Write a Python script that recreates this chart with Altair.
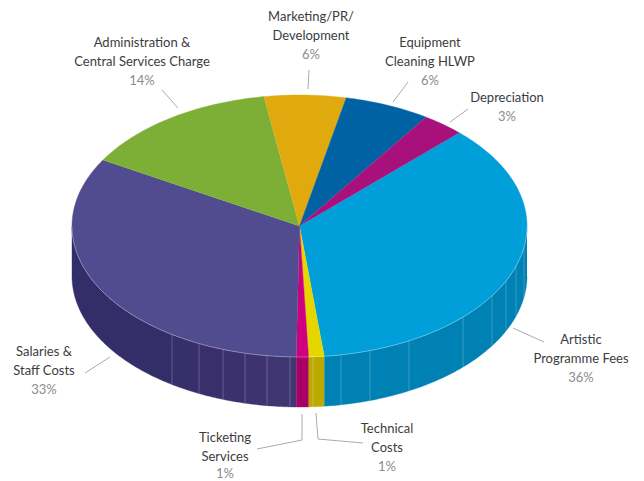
import math
import altair as alt
import pandas as pd

names = ["Artistic Programme Fees", "Technical Costs", "Ticketing Services", "Salaries & Staff Costs",
         "Administration & Central Services Charge", "Marketing/PR/Development", "Equipment Cleaning HLWP", "Depreciation"]
shares = [35.9, 1.1, 0.86, 33.2, 14.1, 5.8, 6.1, 3.0]
top_colors = ["#009FD9", "#E5D600", "#CE0080", "#514C90", "#7DAF37", "#E0AA0E", "#0061A3", "#A8107C"]
wall_colors = ["#0081B4", "#BBAB00", "#A80064", "#332D68", "#7DAF37", "#E0AA0E", "#0061A3", "#A8107C"]
start_angle = 44.6

# Pie projection, in picture coordinates
CX, CY, RX, RY, DEPTH = 299.5, 226.0, 227.5, 131.0, 50.0

salary_wall_x = [72, 172, 199, 223, 245, 267, 290, 296.5]
salary_wall_colors = ["#332D68", "#362F69", "#39306B", "#3B326D", "#3D346F", "#3F3671", "#403772"]
wall_line_x = [172, 199, 223, 245, 267, 290, 313, 341, 370, 409, 463, 492, 506, 516, 524]

label_lines = [
    ("Artistic", 581, 340, "#3C3C3E"), ("Programme Fees", 581, 359, "#3C3C3E"), ("36%", 581, 378, "#8C8C8E"),
    ("Technical", 387, 429, "#3C3C3E"), ("Costs", 387, 448, "#3C3C3E"), ("1%", 387, 467, "#8C8C8E"),
    ("Ticketing", 225, 438, "#3C3C3E"), ("Services", 225, 457, "#3C3C3E"), ("1%", 225, 474, "#8C8C8E"),
    ("Salaries &", 44, 352, "#3C3C3E"), ("Staff Costs", 44, 371, "#3C3C3E"), ("33%", 44, 390, "#8C8C8E"),
    ("Administration &", 142, 43, "#3C3C3E"), ("Central Services Charge", 142, 62, "#3C3C3E"), ("14%", 142, 81, "#8C8C8E"),
    ("Marketing/PR/", 311, 17, "#3C3C3E"), ("Development", 311, 36, "#3C3C3E"), ("6%", 311, 55, "#8C8C8E"),
    ("Equipment", 430, 43, "#3C3C3E"), ("Cleaning HLWP", 430, 62, "#3C3C3E"), ("6%", 430, 81, "#8C8C8E"),
    ("Depreciation", 507, 98, "#3C3C3E"), ("3%", 507, 117, "#8C8C8E"),
]
leaders = [
    [(513, 328), (544, 342)],
    [(316, 413), (318, 439), (363, 443)],
    [(302, 414), (302, 440), (257, 449)],
    [(110, 357), (85, 373)],
    [(162, 90), (178, 108)],
    [(309, 70), (308, 89)],
    [(408, 82), (393, 102)],
    [(468, 109), (450, 122)],
]


def pt(a, drop=0.0):
    r = math.radians(a)
    return CX + RX * math.sin(r), CY - RY * math.cos(r) + drop


def angle_of_x(x):
    """Front-edge angle for a picture x."""
    return 180 - math.degrees(math.asin(max(-1, min(1, (x - CX) / RX))))


total = sum(shares)
bounds = [start_angle]
for s in shares:
    bounds.append(bounds[-1] + s / total * 360)

tops, walls = [], []


def add_wall(gid, a0, a1, color):
    a0, a1 = max(a0, 90), min(a1, 270)
    if a1 <= a0:
        return
    n = max(2, int((a1 - a0) * 1.5))
    arc = [a0 + (a1 - a0) * k / n for k in range(n + 1)]
    pts = [pt(a) for a in arc] + [pt(a, DEPTH) for a in reversed(arc)]
    for i, (x, y) in enumerate(pts):
        walls.append(dict(g=gid, i=i, x=x, y=y, c=color))


for k, (a0, a1) in enumerate(zip(bounds[:-1], bounds[1:])):
    n = max(2, int((a1 - a0) * 1.5))
    pts = [(CX, CY)] + [pt(a0 + (a1 - a0) * j / n) for j in range(n + 1)]
    for i, (x, y) in enumerate(pts):
        tops.append(dict(g=k, i=i, x=x, y=y, c=top_colors[k]))
    if names[k].startswith("Salaries"):
        edges = [a0] + [angle_of_x(x) for x in reversed(salary_wall_x[1:-1])] + [270]
        cols = list(reversed(salary_wall_colors))
        for j in range(len(cols)):
            add_wall(f"{k}-{j}", edges[j], edges[j + 1], cols[j])
    else:
        add_wall(str(k), a0, a1, wall_colors[k])

rim = [dict(i=j, x=pt(90 + j)[0], y=pt(90 + j)[1]) for j in range(181)]

ticks = []
for n, x in enumerate(wall_line_x):
    a = angle_of_x(x)
    for i, d in enumerate((0, DEPTH)):
        px, py = pt(a, d)
        ticks.append(dict(g=n, i=i, x=px, y=py))

lead_rows = [dict(g=n, i=i, x=x, y=y) for n, seg in enumerate(leaders) for i, (x, y) in enumerate(seg)]
text_rows = [dict(t=t, x=x, y=y, c=c) for t, x, y, c in label_lines]

W, H = 628, 473
xs = alt.Scale(domain=[8, 8 + W], range=[0, W])
ys = alt.Scale(domain=[8, 8 + H], range=[0, H])
X = alt.X("x:Q", scale=xs, axis=None)
Y = alt.Y("y:Q", scale=ys, axis=None)


def poly(rows):
    return alt.Chart(pd.DataFrame(rows)).mark_line(strokeWidth=0.4, interpolate="linear").encode(
        x=X, y=Y, detail="g:N", order=alt.Order("i:Q"),
        color=alt.Color("c:N", scale=None), fill=alt.Fill("c:N", scale=None))


def lines(rows, color, width, opacity=1.0):
    return alt.Chart(pd.DataFrame(rows)).mark_line(color=color, strokeWidth=width, opacity=opacity).encode(
        x=X, y=Y, order=alt.Order("i:Q"), **({"detail": "g:N"} if "g" in rows[0] else {}))


labels = alt.Chart(pd.DataFrame(text_rows)).mark_text(
    font="Lato", fontSize=13, align="center", baseline="middle"
).encode(x=X, y=Y, text="t:N", color=alt.Color("c:N", scale=None))

chart = alt.layer(
    poly(walls),
    lines(ticks, "#FFFFFF", 0.8, 0.28),
    poly(tops),
    lines(rim, "#FFFFFF", 0.7, 0.45),
    lines(lead_rows, "#ABABAF", 1.0),
    labels,
).properties(width=W, height=H, padding=0, autosize=alt.AutoSizeParams(type="none")).configure_view(stroke=None)

chart.save("out.html", embed_options={"renderer": "svg", "actions": False})
